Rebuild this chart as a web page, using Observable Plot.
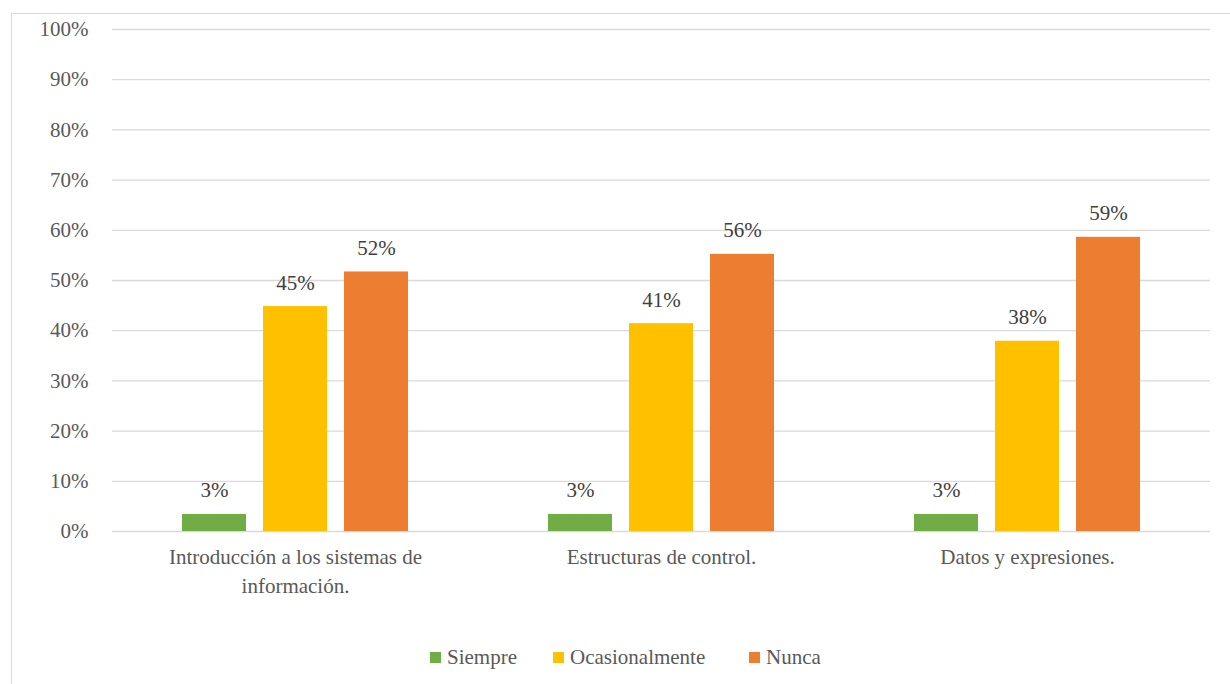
<!DOCTYPE html>
<html>
<head>
<meta charset="utf-8">
<script src="https://cdn.jsdelivr.net/npm/d3@7"></script>
<script src="https://cdn.jsdelivr.net/npm/@observablehq/plot@0.6"></script>
<style>
  html, body { margin: 0; padding: 0; background: #fff; overflow: hidden; }
  body { width: 1230px; height: 684px; position: relative; font-family: 'Times New Roman', Times, 'Liberation Serif', Tinos, 'Noto Serif', FreeSerif, 'DejaVu Serif', serif; }
  #box { position: absolute; left: 11px; top: 13px; width: 1300px; height: 720px;
         border-left: 1px solid #d9d9d9; border-top: 1px solid #d9d9d9; }
  #chart { position: absolute; left: 0; top: 0; }
  #chart svg text { font-family: 'Times New Roman', Times, 'Liberation Serif', Tinos, 'Noto Serif', FreeSerif, 'DejaVu Serif', serif; }
  #legend { position: absolute; left: 418px; top: 631px; display: flex;
            font-size: 21px; color: #595959; }
  .item { display: flex; align-items: center; }
  .sw { width: 11px; height: 11px; margin-right: 6px; }
</style>
</head>
<body>
<div id="box">
  <div id="chart"></div>
  <div id="legend"></div>
</div>
<script>
const categories = ["Introducción a los sistemas de información.", "Estructuras de control.", "Datos y expresiones."];
const categoryLabels = ["Introducción a los sistemas de\ninformación.", "Estructuras de control.", "Datos y expresiones."];
const series = ["Siempre", "Ocasionalmente", "Nunca"];
const colors = ["#70AD47", "#FFC000", "#ED7D31"];
const siempre = [3.4, 3.4, 3.4];
const ocasionalmente = [44.8, 41.4, 37.9];
const nunca = [51.7, 55.2, 58.6];
const siempreLabels = ["3%", "3%", "3%"];
const ocasionalmenteLabels = ["45%", "41%", "38%"];
const nuncaLabels = ["52%", "56%", "59%"];
const yTicks = [0, 10, 20, 30, 40, 50, 60, 70, 80, 90, 100];

const seriesValues = [siempre, ocasionalmente, nunca];
const seriesLabels = [siempreLabels, ocasionalmenteLabels, nuncaLabels];
const table = [];
categories.forEach((c, i) => {
  series.forEach((s, j) => {
    table.push({category: c, series: s, value: seriesValues[j][i], label: seriesLabels[j][i]});
  });
});

const chart = Plot.plot({
  width: 1218,
  height: 600,
  marginLeft: 99,
  marginRight: 20,
  marginTop: 15,
  marginBottom: 83,
  style: {fontSize: "21px", color: "#595959", background: "transparent"},
  fx: {domain: categories, padding: 0, label: null},
  x: {domain: series, paddingInner: 0.21, paddingOuter: 0.86, axis: null},
  y: {domain: [0, 100], label: null},
  color: {domain: series, range: colors},
  marks: [
    Plot.gridY(yTicks, {stroke: "#d9d9d9", strokeOpacity: 1, strokeWidth: 1.3}),
    Plot.axisY(yTicks, {tickSize: 0, tickPadding: 24, tickFormat: d => d + "%", label: null, fill: "#595959"}),
    Plot.axisFx({anchor: "bottom", tickSize: 0, tickPadding: 12, lineHeight: 1.38, label: null, fill: "#595959",
                 tickFormat: d => categoryLabels[categories.indexOf(d)]}),
    Plot.barY(table, {fx: "category", x: "series", y: "value", fill: "series"}),
    Plot.text(table, {fx: "category", x: "series", y: "value", text: "label", lineAnchor: "bottom", dy: -17, fill: "#404040"})
  ]
});
document.getElementById("chart").appendChild(chart);

const legend = document.getElementById("legend");
const itemWidths = ["123px", "196px", "auto"];
series.forEach((s, i) => {
  const item = document.createElement("div");
  item.className = "item";
  item.style.width = itemWidths[i];
  const sw = document.createElement("span");
  sw.className = "sw";
  sw.style.background = colors[i];
  const t = document.createElement("span");
  t.textContent = s;
  item.appendChild(sw);
  item.appendChild(t);
  legend.appendChild(item);
});
</script>
</body>
</html>
